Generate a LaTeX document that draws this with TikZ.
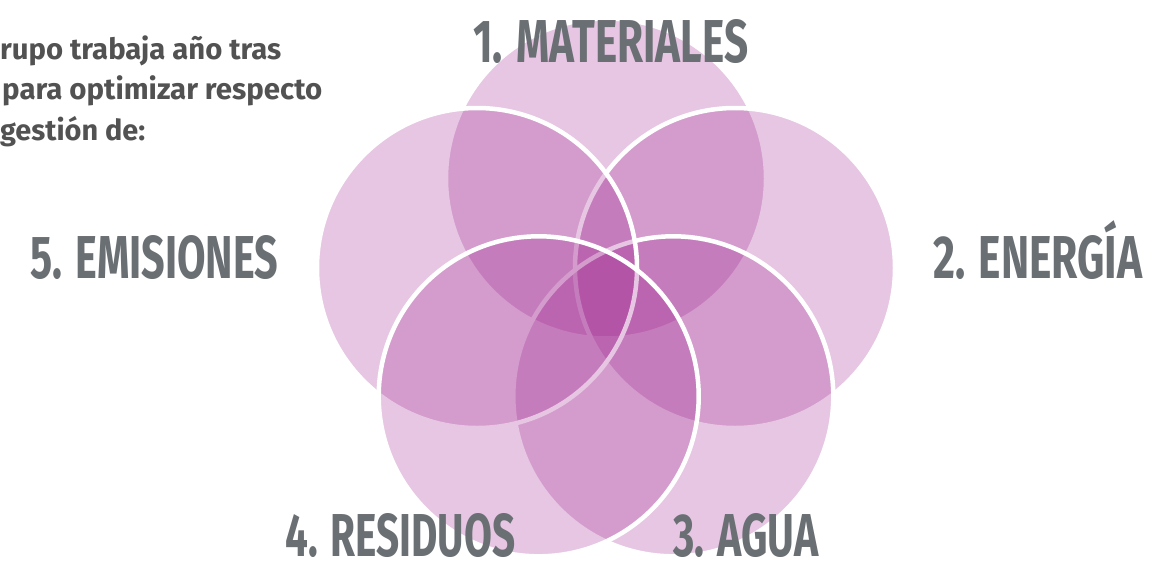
\documentclass[tikz,border=0pt]{standalone}
\usepackage{fontspec}
\setmainfont{Fira Sans}
\usepackage{graphicx}
\definecolor{petalc}{RGB}{159,36,143}
\definecolor{labelgray}{RGB}{106,111,116}
\definecolor{textgray}{RGB}{82,82,82}
\newcommand{\biglabel}[2]{\resizebox{#1}{43pt}{\bfseries #2}}
\newcommand{\paraline}[2]{\resizebox{#1}{!}{\bfseries #2}}
\begin{document}
\begin{tikzpicture}[x=1pt,y=-1pt,
  petal/.style={circle, minimum size=320pt, inner sep=0pt, fill=petalc, fill opacity=0.26, draw=white, draw opacity=1, line width=4.5pt},
  lbl/.style={inner sep=0pt, anchor=base west, text=labelgray},
  para/.style={inner sep=0pt, anchor=base west, text=textgray}]
\useasboundingbox (0,0) rectangle (1176,563);
\fill[white] (0,0) rectangle (1176,563);
% circles, in stacking order
\node[petal] (c1) at (606,178.5) {};
\node[petal] (c2) at (735,268) {};
\node[petal] (c3) at (673.3,396.3) {};
\node[petal] (c5) at (477,268) {};
\node[petal] (c4) at (538.7,396.3) {};
% labels
\node[lbl] (l1) at (473,62) {\biglabel{275pt}{1. MATERIALES}};
\node[lbl] (l2) at (933,278) {\biglabel{209pt}{2. ENERG\smash{Í}A}};
\node[lbl] (l5) at (30,278) {\biglabel{248pt}{5. EMISIONES}};
\node[lbl] (l4) at (285,556) {\biglabel{230pt}{4. RESIDUOS}};
\node[lbl] (l3) at (673,556) {\biglabel{145pt}{3. AGUA}};
% paragraph
\node[para] (p1) at (0,59) {\paraline{281pt}{rupo trabaja año tras}};
\node[para] (p2) at (2,99) {\paraline{320pt}{para optimizar respecto}};
\node[para] (p3) at (0,140) {\paraline{145pt}{gestión de:}};
\end{tikzpicture}
\end{document}
